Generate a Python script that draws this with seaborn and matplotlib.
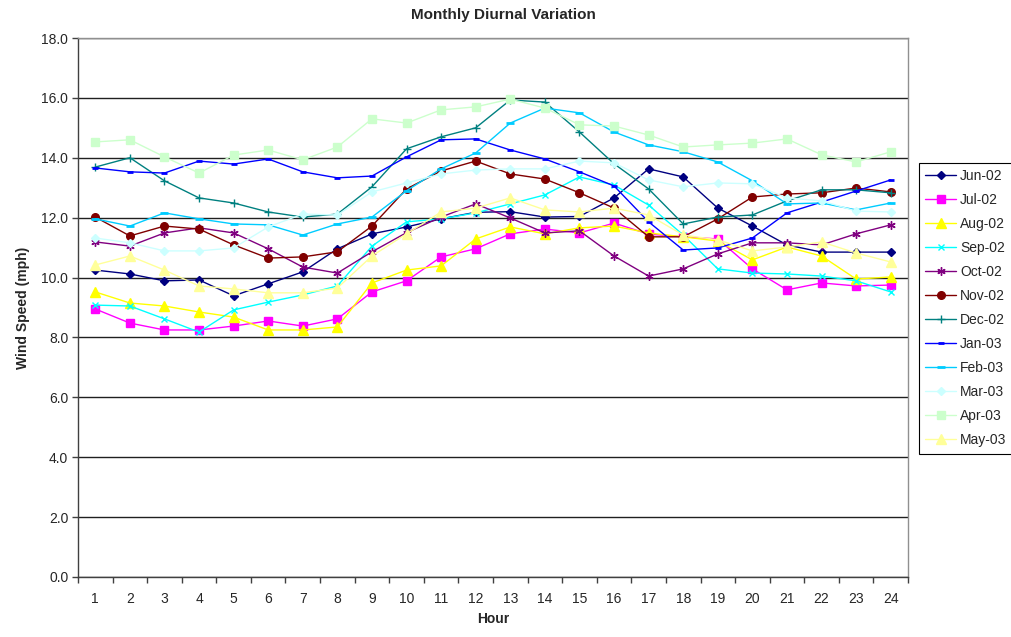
import numpy as np
import pandas as pd
import matplotlib
matplotlib.use("Agg")
import matplotlib.pyplot as plt
import seaborn as sns

hours = list(range(1, 25))

jun02 = [10.25, 10.12, 9.89, 9.92, 9.39, 9.79, 10.19, 10.96, 11.46, 11.69, 11.96, 12.18,
         12.2, 12.02, 12.04, 12.66, 13.63, 13.36, 12.32, 11.72, 11.09, 10.85, 10.85, 10.85]
jul02 = [8.95, 8.48, 8.25, 8.25, 8.38, 8.55, 8.38, 8.62, 9.52, 9.89, 10.69, 10.96,
         11.46, 11.62, 11.49, 11.82, 11.45, 11.36, 11.29, 10.29, 9.59, 9.82, 9.72, 9.75]
aug02 = [9.52, 9.15, 9.05, 8.85, 8.68, 8.25, 8.25, 8.35, 9.82, 10.25, 10.39, 11.29,
         11.69, 11.46, 11.66, 11.72, 11.49, 11.36, 11.22, 10.59, 11.02, 10.72, 9.95, 10.02]
sep02 = [9.08, 9.05, 8.62, 8.18, 8.92, 9.18, 9.42, 9.72, 11.05, 11.86, 11.96, 12.16,
         12.46, 12.76, 13.36, 13.09, 12.42, 11.42, 10.29, 10.15, 10.12, 10.05, 9.89, 9.52]
oct02 = [11.19, 11.05, 11.49, 11.66, 11.49, 10.96, 10.35, 10.15, 10.86, 11.5, 12.02, 12.46,
         11.99, 11.49, 11.56, 10.72, 10.05, 10.29, 10.79, 11.16, 11.16, 11.09, 11.46, 11.76]
nov02 = [12.02, 11.39, 11.72, 11.62, 11.09, 10.65, 10.69, 10.86, 11.72, 12.96, 13.56, 13.89,
         13.46, 13.29, 12.83, 12.32, 11.36, 11.36, 11.96, 12.69, 12.79, 12.83, 12.99, 12.86]
dec02 = [13.69, 14.0, 13.23, 12.66, 12.49, 12.19, 12.02, 12.12, 13.03, 14.3, 14.7, 15.0,
         15.93, 15.86, 14.86, 13.8, 12.96, 11.79, 12.02, 12.09, 12.56, 12.93, 12.93, 12.83]
jan03 = [13.66, 13.53, 13.49, 13.89, 13.79, 13.96, 13.53, 13.33, 13.39, 14.03, 14.6, 14.63,
         14.26, 13.96, 13.53, 13.06, 11.86, 10.92, 10.99, 11.32, 12.16, 12.52, 12.89, 13.26]
feb03 = [11.96, 11.72, 12.16, 11.96, 11.79, 11.76, 11.42, 11.79, 12.02, 12.9, 13.63, 14.16,
         15.16, 15.66, 15.5, 14.86, 14.43, 14.2, 13.86, 13.23, 12.46, 12.49, 12.26, 12.49]
mar03 = [11.32, 11.16, 10.89, 10.89, 10.99, 11.69, 12.12, 12.09, 12.86, 13.16, 13.46, 13.59,
         13.63, 13.63, 13.89, 13.83, 13.26, 13.03, 13.16, 13.13, 12.66, 12.56, 12.22, 12.19]
apr03 = [14.53, 14.6, 14.03, 13.49, 14.09, 14.26, 13.93, 14.36, 15.3, 15.16, 15.6, 15.7,
         15.96, 15.66, 15.1, 15.06, 14.76, 14.36, 14.43, 14.49, 14.63, 14.1, 13.86, 14.2]
may03 = [10.42, 10.72, 10.25, 9.72, 9.62, 9.49, 9.49, 9.65, 10.72, 11.46, 12.19, 12.32,
         12.66, 12.26, 12.19, 12.32, 12.09, 11.42, 11.26, 10.89, 11.02, 11.19, 10.82, 10.52]

months = ["Jun-02", "Jul-02", "Aug-02", "Sep-02", "Oct-02", "Nov-02",
          "Dec-02", "Jan-03", "Feb-03", "Mar-03", "Apr-03", "May-03"]
series = [jun02, jul02, aug02, sep02, oct02, nov02, dec02, jan03, feb03, mar03, apr03, may03]

colors = ["#000080", "#FF00FF", "#FFFF00", "#00FFFF", "#800080", "#800000",
          "#008080", "#0000FF", "#00CCFF", "#CCFFFF", "#CCFFCC", "#FFFF99"]
markers = ["D", "s", "^", "x", (6, 2, 0), "o", "+", "_", "_", "D", "s", "^"]
msizes = [4.5, 5.5, 6.5, 5, 6, 5.5, 6, 5, 6, 4.5, 5.5, 6.5]

sns.set_style("white")
plt.rcParams["font.family"] = ["Liberation Sans", "DejaVu Sans"]

fig = plt.figure(figsize=(10.11, 6.37), dpi=100)
ax = fig.add_axes([78/1011, 1 - 577/637, 830/1011, 539/637])

for m, vals, c, mk, ms in zip(months, series, colors, markers, msizes):
    d = pd.DataFrame({"Hour": hours, "Speed": vals})
    mew = 2 if mk == "_" else 1
    sns.lineplot(data=d, x="Hour", y="Speed", ax=ax, color=c, marker=mk,
                 markersize=ms, markeredgecolor=c, markerfacecolor=c,
                 markeredgewidth=mew, linewidth=1, label=m, legend=False)

ax.set_xlim(0.5, 24.5)
ax.set_ylim(0, 18)
ax.set_yticks(np.arange(0, 18.1, 2))
ax.set_yticklabels([f"{v:.1f}" for v in np.arange(0, 18.1, 2)], fontsize=10)
ax.set_xticks(hours)
ax.set_xticklabels([str(h) for h in hours], fontsize=10)
ax.set_xticks(np.arange(0.5, 24.6, 1), minor=True)
ax.tick_params(axis="x", which="major", length=0, pad=11)
ax.tick_params(axis="x", which="minor", length=4, width=1, color="#404040", direction="out", bottom=True)
ax.tick_params(axis="y", length=4, width=1, color="#404040", direction="out", left=True, pad=3)
ax.yaxis.grid(True, color="#202020", linewidth=1)
ax.xaxis.grid(False)
ax.set_axisbelow(True)

for s in ["left", "bottom"]:
    ax.spines[s].set_color("#404040")
    ax.spines[s].set_linewidth(1)
for s in ["top", "right"]:
    ax.spines[s].set_color("#909090")
    ax.spines[s].set_linewidth(1)

ax.set_xlabel("Hour", fontsize=10, fontweight="bold", labelpad=4)
ax.set_ylabel("Wind Speed (mph)", fontsize=10, fontweight="bold", labelpad=8)
fig.text(503/1011, 1 - 15/637, "Monthly Diurnal Variation", ha="center", va="center",
         fontsize=11, fontweight="bold")

handles, labels = ax.get_legend_handles_labels()
leg = fig.legend(handles, labels, loc="upper left", bbox_to_anchor=(919/1011, 1 - 163/637),
                 bbox_transform=fig.transFigure, fontsize=10, frameon=True, fancybox=False,
                 edgecolor="black", framealpha=1, borderaxespad=0, handlelength=2.2,
                 handletextpad=0.3, labelspacing=0.72, borderpad=0.45)
leg.get_frame().set_linewidth(0.8)

fig.savefig("out.png", dpi=100)
